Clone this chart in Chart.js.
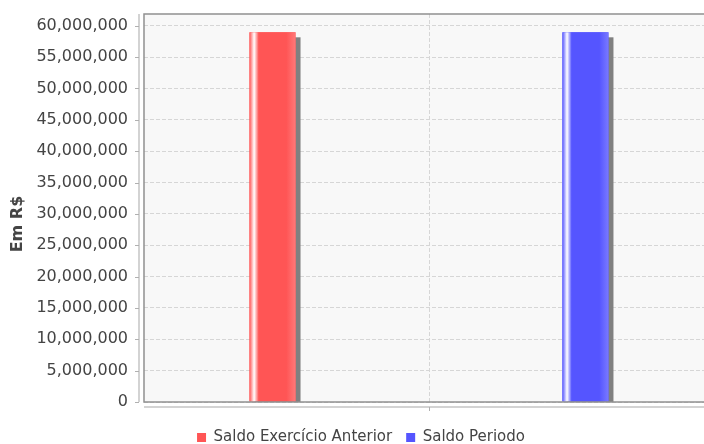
<!DOCTYPE html>
<html>
<head>
<meta charset="utf-8">
<script src="https://cdn.jsdelivr.net/npm/chart.js@4/dist/chart.umd.min.js"></script>
<style>
  html, body { margin: 0; padding: 0; background: #ffffff; overflow: hidden; }
  #wrap { position: absolute; left: 0; top: 0; width: 720px; height: 444px; }
</style>
</head>
<body>
<div id="wrap"><canvas id="c" width="720" height="444"></canvas></div>
<script>
// ---- data ----
const categories = [''];
const seriesNames = ['Saldo Exercício Anterior', 'Saldo Periodo'];
const saldoExercicioAnterior = [58950000];
const saldoPeriodo = [58950000];
const yTickValues = [0, 5000000, 10000000, 15000000, 20000000, 25000000, 30000000,
                     35000000, 40000000, 45000000, 50000000, 55000000, 60000000];
const yAxisMax = 61870000;
const yAxisTitle = 'Em R$';

// ---- styling ----
const seriesColors = ['#ff5555', '#5555ff'];
const seriesBrighter = ['#ff7979', '#7979ff'];
const textColor = '#444444';
const fontFamily = '"DejaVu Sans", sans-serif';

// Plot background, bar shadows, gradient bar faces, frame and offset axes
const plotDecor = {
  id: 'plotDecor',
  beforeDraw(chart) {
    const { ctx, chartArea: a } = chart;
    ctx.save();
    ctx.fillStyle = '#f8f8f8';
    ctx.fillRect(a.left, a.top, a.right - a.left, a.bottom - a.top);
    ctx.restore();
  },
  beforeDatasetsDraw(chart) {
    const { ctx, chartArea: a } = chart;
    ctx.save();
    ctx.beginPath();
    ctx.rect(a.left, a.top, a.right - a.left, a.bottom - a.top);
    ctx.clip();
    ctx.fillStyle = '#808080';
    chart.data.datasets.forEach((ds, i) => {
      chart.getDatasetMeta(i).data.forEach(bar => {
        const left = bar.x - bar.width / 2;
        ctx.fillRect(left + 5, bar.y + 5, bar.width, bar.base - bar.y);
      });
    });
    ctx.restore();
  },
  afterDatasetsDraw(chart) {
    const { ctx } = chart;
    ctx.save();
    chart.data.datasets.forEach((ds, i) => {
      chart.getDatasetMeta(i).data.forEach(bar => {
        const left = bar.x - bar.width / 2;
        const g = ctx.createLinearGradient(left, 0, left + bar.width, 0);
        g.addColorStop(0, seriesColors[i]);
        g.addColorStop(0.1, '#ffffff');
        g.addColorStop(0.2, seriesColors[i]);
        g.addColorStop(0.8, seriesColors[i]);
        g.addColorStop(1, seriesBrighter[i]);
        ctx.fillStyle = g;
        ctx.fillRect(left, bar.y, bar.width, bar.base - bar.y);
      });
    });
    ctx.restore();
  },
  afterDraw(chart) {
    const { ctx, chartArea: a } = chart;
    const yScale = chart.scales.y;
    const xScale = chart.scales.x;
    ctx.save();
    // plot outline
    ctx.strokeStyle = '#909090';
    ctx.lineWidth = 1.5;
    ctx.strokeRect(a.left, a.top, a.right - a.left, a.bottom - a.top);
    // range axis line, offset from the plot
    ctx.strokeStyle = '#c4c4c4';
    ctx.lineWidth = 1.5;
    ctx.beginPath();
    ctx.moveTo(a.left - 5, a.top);
    ctx.lineTo(a.left - 5, a.bottom);
    ctx.stroke();
    // range axis tick marks
    ctx.strokeStyle = '#b0b0b0';
    ctx.lineWidth = 1;
    yScale.ticks.forEach(t => {
      const py = Math.round(yScale.getPixelForValue(t.value)) + 0.5;
      ctx.beginPath();
      ctx.moveTo(a.left - 9, py);
      ctx.lineTo(a.left - 5, py);
      ctx.stroke();
    });
    // category axis line, offset below the plot
    ctx.strokeStyle = '#c4c4c4';
    ctx.lineWidth = 1.5;
    ctx.beginPath();
    ctx.moveTo(a.left, a.bottom + 5);
    ctx.lineTo(a.right, a.bottom + 5);
    ctx.stroke();
    // category tick mark
    ctx.strokeStyle = '#b0b0b0';
    ctx.lineWidth = 1;
    categories.forEach((c, i) => {
      const px = Math.round(xScale.getPixelForValue(i)) + 0.5;
      ctx.beginPath();
      ctx.moveTo(px, a.bottom + 5);
      ctx.lineTo(px, a.bottom + 9);
      ctx.stroke();
    });
    // range axis label
    ctx.fillStyle = textColor;
    ctx.font = 'bold 16px ' + fontFamily;
    ctx.textAlign = 'center';
    ctx.textBaseline = 'middle';
    ctx.translate(18, (a.top + a.bottom) / 2 + 16);
    ctx.rotate(-Math.PI / 2);
    ctx.fillText(yAxisTitle, 0, 0);
    ctx.restore();
  }
};

new Chart(document.getElementById('c'), {
  type: 'bar',
  data: {
    labels: categories,
    datasets: [
      { label: seriesNames[0], data: saldoExercicioAnterior, backgroundColor: seriesColors[0] },
      { label: seriesNames[1], data: saldoPeriodo, backgroundColor: seriesColors[1] }
    ]
  },
  options: {
    responsive: false,
    animation: false,
    devicePixelRatio: 1,
    layout: { padding: { left: 8, right: 6, top: 14, bottom: -11 } },
    datasets: {
      bar: { categoryPercentage: 1.098, barPercentage: 0.147, borderWidth: 0 }
    },
    scales: {
      x: {
        offset: true,
        grid: { offset: false, drawTicks: false, color: '#d6d6d6', lineWidth: 1 },
        border: { display: false, dash: [4, 2] },
        ticks: { display: false },
        afterFit(scale) { scale.height = 14; }
      },
      y: {
        min: 0,
        max: yAxisMax,
        afterBuildTicks(scale) { scale.ticks = yTickValues.map(v => ({ value: v })); },
        grid: { drawTicks: false, color: '#d6d6d6', lineWidth: 1 },
        border: { display: false, dash: [4, 2] },
        ticks: {
          padding: 16,
          color: textColor,
          font: { family: fontFamily, size: 16 },
          callback: v => Number(v).toLocaleString('en-US')
        },
        afterFit(scale) {
          scale.width = 136;
          scale.paddingTop = 0;
          scale.paddingBottom = 0;
        }
      }
    },
    plugins: {
      tooltip: { enabled: false },
      legend: {
        position: 'bottom',
        labels: {
          boxWidth: 9,
          boxHeight: 9,
          padding: 14,
          color: textColor,
          font: { family: fontFamily, size: 15 },
          generateLabels(chart) {
            return chart.data.datasets.map((ds, i) => ({
              text: ds.label,
              fillStyle: seriesColors[i],
              strokeStyle: seriesColors[i],
              lineWidth: 0,
              fontColor: textColor,
              datasetIndex: i,
              hidden: false
            }));
          }
        }
      }
    }
  },
  plugins: [plotDecor]
});
</script>
</body>
</html>
